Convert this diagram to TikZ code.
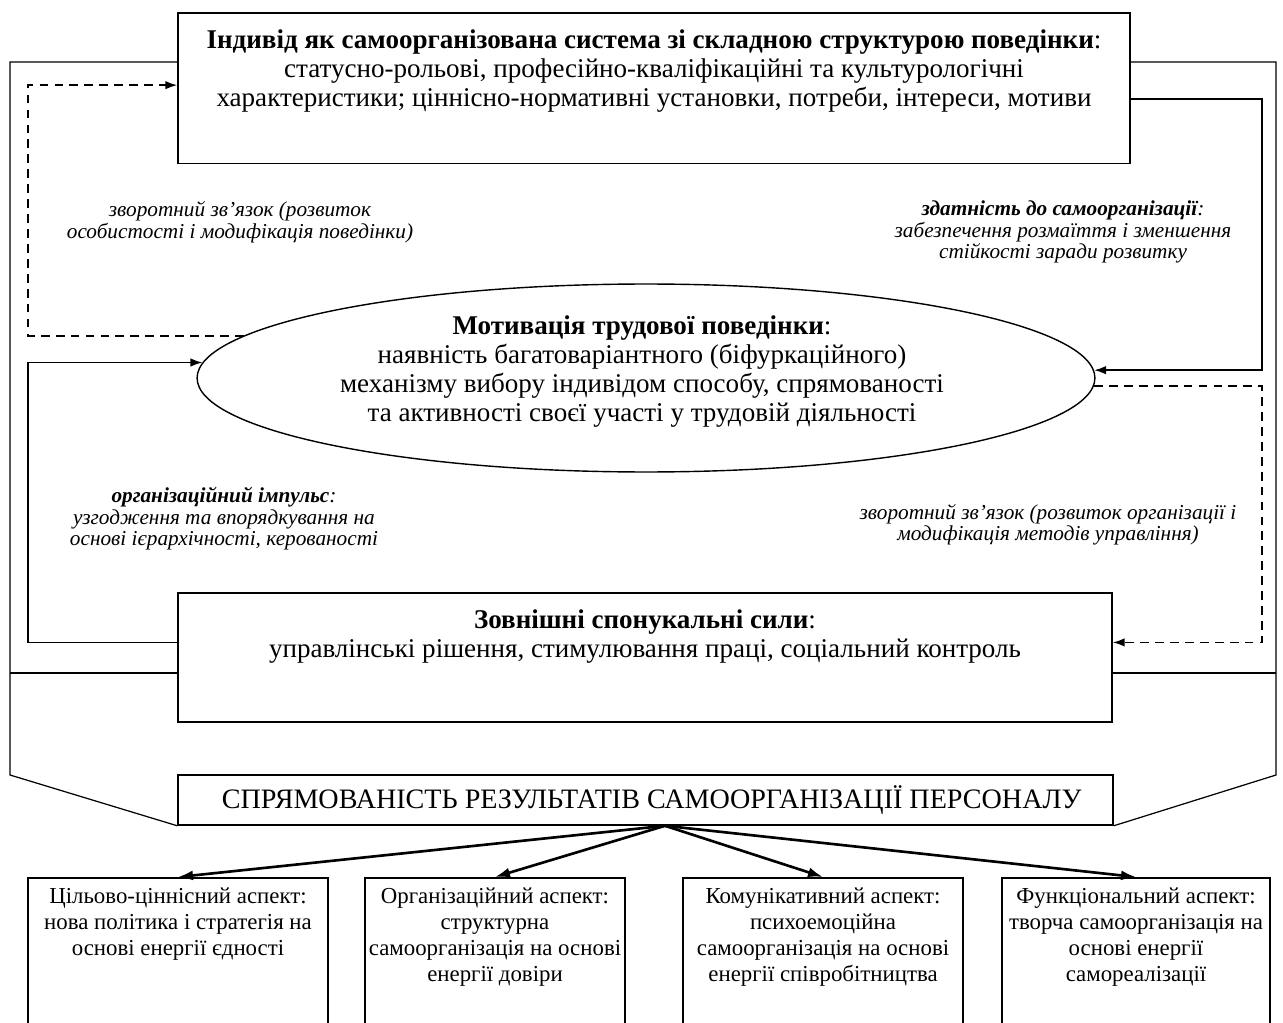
\documentclass[tikz,border=0pt]{standalone}
\usepackage{fontspec}
\setmainfont{Liberation Serif}
\usetikzlibrary{arrows.meta,shapes.geometric}

\begin{document}
\begin{tikzpicture}[>={Latex[length=2.4mm,width=1.7mm]},x=0.02cm,y=-0.02cm,
  box/.style={draw,line width=0.9pt,align=center,inner xsep=0pt,inner ysep=0.34cm,
    font=\fontsize{15.4}{16.5}\selectfont},
  aspect/.style={draw,line width=0.9pt,align=center,anchor=north,inner xsep=0pt,inner ysep=5.5pt,
    text depth=4cm,font=\fontsize{13}{14.8}\selectfont},
  note/.style={align=center,inner sep=0pt,font=\fontsize{12.1}{12.2}\selectfont\itshape},
  link/.style={line width=1pt},
  fb/.style={line width=1pt,dash pattern=on 5pt off 3.5pt},
  frame/.style={line width=0.7pt},
  fan/.style={line width=1.5pt,>={Latex[length=3mm,width=2mm]}}]
  \useasboundingbox (0,0) rectangle (1283,1023);
  \clip (0,0) rectangle (1283,1023);
  % upper part
  \node[box,anchor=north,minimum width=19.04cm,text depth=0.8cm] (indiv) at (654,12)
    {\textbf{Індивід як самоорганізована система зі складною структурою поведінки}:\\
     статусно-рольові, професійно-кваліфікаційні та культурологічні\\
     характеристики; ціннісно-нормативні установки, потреби, інтереси, мотиви};
  \node[draw,ellipse,line width=0.8pt,minimum width=17.96cm,minimum height=3.76cm] (motiv) at (646,378) {};
  \node[align=center,inner sep=0pt,font=\fontsize{15.4}{16.5}\selectfont] (motivtxt) at (642,372)
    {\textbf{Мотивація трудової поведінки}:\\
     наявність багатоваріантного (біфуркаційного)\\
     механізму вибору індивідом способу, спрямованості\\
     та активності своєї участі у трудовій діяльності};
  \node[box,anchor=north,minimum width=18.68cm,text depth=0.95cm] (ext) at (645,592)
    {\textbf{Зовнішні спонукальні сили}:\\
     управлінські рішення, стимулювання праці, соціальний контроль};
  \node[note] (fbind) at (240,222) {зворотний зв’язок (розвиток\\особистості і модифікація поведінки)};
  \node[note] (selforg) at (1063,232) {\textbf{здатність до самоорганізації}:\\забезпечення розмаїття і зменшення\\стійкості заради розвитку};
  \node[note] (impulse) at (224,519) {\textbf{організаційний імпульс}:\\узгодження та впорядкування на\\основі ієрархічності, керованості};
  \node[note] (fborg) at (1048,525) {зворотний зв’язок (розвиток організації і\\модифікація методів управління)};
  % loops round the ellipse
  \coordinate (lnL) at (28,0); \coordinate (lnR) at (1262,0);
  \draw[fb,->] (motiv.174.2) -- (motiv.174.2 -| lnL) |- ([yshift=0.06cm]indiv.west);
  \draw[link,->] ([yshift=-0.22cm]indiv.east) -| (lnR |- motiv.1.3) -- (motiv.1.3);
  \draw[link,->] ([yshift=0.3cm]ext.west) -| (lnL |- motiv.178.8) -- (motiv.178.8);
  \draw[fb,->] (motiv.-1.3) -- (motiv.-1.3 -| lnR) |- ([yshift=0.3cm]ext.east);
  % outer frame
  \node[box,minimum width=18.7cm,minimum height=1cm,inner ysep=0pt,font=\fontsize{16}{17}\selectfont] (sprm) at (645.5,800)
    {\hspace*{0.25cm}СПРЯМОВАНІСТЬ РЕЗУЛЬТАТІВ САМООРГАНІЗАЦІЇ ПЕРСОНАЛУ};
  \coordinate (fL) at (10,62); \coordinate (fR) at (1276,62);
  \coordinate (fLb) at (10,775); \coordinate (fRb) at (1276,775);
  \coordinate (split) at (0,673);
  \draw[frame] (indiv.west |- fL) -- (fL) -- (fLb) -- (sprm.south west);
  \draw[frame] (indiv.east |- fR) -- (fR) -- (fRb) -- (sprm.south east);
  \draw[frame] (fL |- split) -- (ext.west |- split);
  \draw[frame] (ext.east |- split) -- (fR |- split);
  % aspects
  \node[aspect,minimum width=6cm] (asp1) at (178,877)
    {Цільово-ціннісний аспект:\\нова політика і стратегія на\\основі енергії єдності};
  \node[aspect,minimum width=5.2cm] (asp2) at (495,877)
    {Організаційний аспект:\\структурна\\самоорганізація на основі\\енергії довіри};
  \node[aspect,minimum width=5.6cm] (asp3) at (823,877)
    {Комунікативний аспект:\\психоемоційна\\самоорганізація на основі\\енергії співробітництва};
  \node[aspect,minimum width=5.36cm] (asp4) at (1136,877)
    {Функціональний аспект:\\творча самоорганізація на\\основі енергії\\самореалізації};
  \foreach \a in {asp1,asp2,asp3,asp4}
    \draw[fan,->] ([xshift=0.39cm]sprm.south) -- (\a.north);
\end{tikzpicture}
\end{document}
